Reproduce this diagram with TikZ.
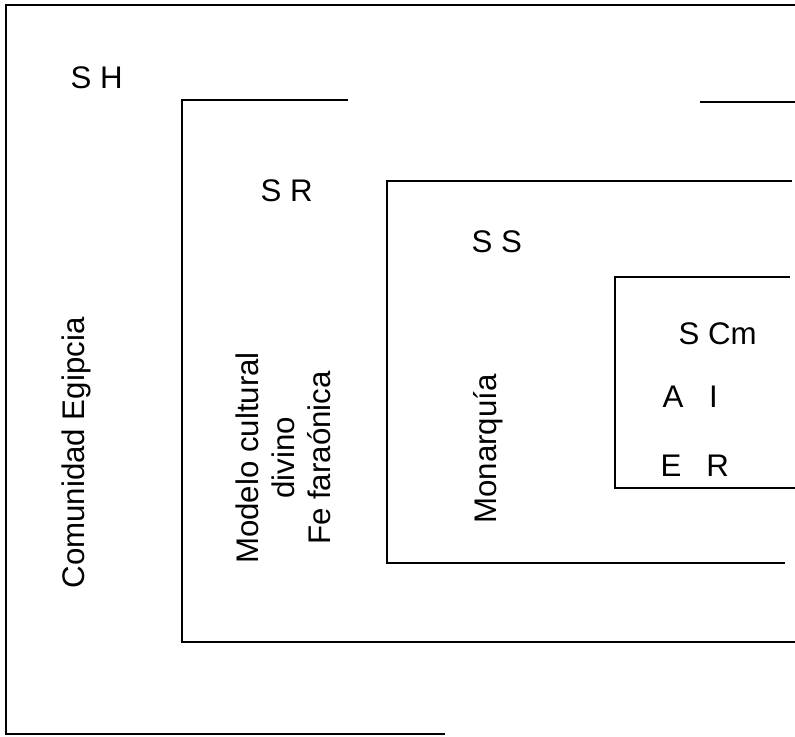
\documentclass[tikz,border=0pt]{standalone}
\usepackage{fontspec}
\setmainfont{Liberation Sans}
\usetikzlibrary{positioning}

\tikzset{
  frameline/.style={line width=0.75pt},
  lbl/.style={font=\fontsize{10}{11.5}\selectfont, inner sep=0pt},
}

\begin{document}
\begin{tikzpicture}[x=0.32pt, y=-0.32pt]
\useasboundingbox (0,0) rectangle (795,737);
% outer frame (S H)
\draw[frameline] (445,734) -- (6,734) -- (6,5) -- (795,5);
% frame S R, its top edge is broken
\draw[frameline] (348,100) -- (182,100) -- (182,642) -- (795,642);
\draw[frameline] (700,102) -- (795,102);
% frame S S
\draw[frameline] (792,181) -- (387,181) -- (387,563) -- (785,563);
% frame S Cm
\draw[frameline] (790,277) -- (615,277) -- (615,488) -- (795,488);
% level names
\node[lbl, anchor=base west] (sh) at (70,89) {S H};
\node[lbl, anchor=base west] (sr) at (260,202) {S R};
\node[lbl, anchor=base west] (ss) at (471,253) {S S};
\node[lbl, anchor=base west] (scm) at (678,345) {S Cm};
\node[lbl, anchor=base west] (ai) at (662,408) {A\hspace{0.82em}I};
\node[lbl, anchor=base west] (er) at (660,477) {E\hspace{0.8em}R};
% vertical texts
\node[lbl, rotate=90, anchor=base] (comunidad) at (84,453) {Comunidad Egipcia};
\node[lbl, rotate=90, align=center] (modelo) at (283,458)
  {Modelo cultural\\divino\\Fe faraónica};
\node[lbl, rotate=90, anchor=base] (monarquia) at (497,449) {Monarquía};
\end{tikzpicture}
\end{document}
